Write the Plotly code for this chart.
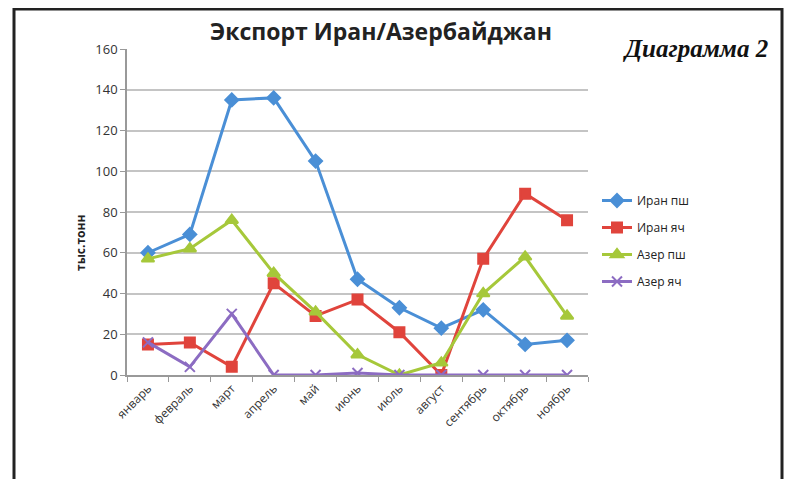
import plotly.graph_objects as go

months = ["январь", "февраль", "март", "апрель", "май", "июнь", "июль",
          "август", "сентябрь", "октябрь", "ноябрь"]
iran_wheat = [60, 69, 135, 136, 105, 47, 33, 23, 32, 15, 17]
iran_barley = [15, 16, 4, 45, 29, 37, 21, 0, 57, 89, 76]
azer_wheat = [57, 62, 76, 50, 31, 10, 0, 6, 40, 58, 29]
azer_barley = [16, 4, 30, 0, 0, 1, 0, 0, 0, 0, 0]
y_ticks = [0, 20, 40, 60, 80, 100, 120, 140, 160]

series = [
    ("Иран пш", iran_wheat, "#4a8fd6", "diamond", 10),
    ("Иран яч", iran_barley, "#e0443c", "square", 10),
    ("Азер пш", azer_wheat, "#a6c83a", "triangle-up", 11),
    ("Азер яч", azer_barley, "#8c6cc2", "x-thin", 10),
]

OFF = 8  # page body margin
FW, FH = 793 - OFF, 479 - OFF
L, R, T, B = 127 - OFF, 588 - OFF, 49 - OFF, 375 - OFF
W, H = R - L, B - T


def px(x):
    return (x - OFF - L) / W


def py(y):
    return (B - (y - OFF)) / H


fig = go.Figure()
for i, (name, vals, col, sym, sz) in enumerate(series):
    fig.add_trace(go.Scatter(
        x=months, y=vals, name=name, mode="lines+markers",
        line=dict(color=col, width=3),
        marker=dict(symbol=sym, size=sz, color=col,
                    line=dict(color=col, width=2)),
        legendgroup=f"g{i}",
    ))

fig.update_layout(
    width=FW, height=FH,
    margin=dict(l=L, r=FW - R, t=T, b=FH - B),
    paper_bgcolor="white", plot_bgcolor="white",
    font=dict(family="Open Sans, DejaVu Sans, sans-serif", color="#333"),
    showlegend=True,
    legend=dict(x=px(597), y=py(186), xanchor="left", yanchor="top",
                font=dict(size=12, color="#222"), traceorder="grouped",
                tracegroupgap=8, itemwidth=30, bgcolor="rgba(0,0,0,0)"),
    xaxis=dict(type="category", range=[-0.5, 10.5], showgrid=False,
               showline=True, linecolor="#999", linewidth=1.5,
               ticks="outside", ticklen=5, tickcolor="#999",
               tickson="boundaries", tickangle=-45,
               tickfont=dict(size=12, color="#333")),
    yaxis=dict(range=[0, 160], tickvals=y_ticks, showgrid=True,
               gridcolor="#c4c4c4", gridwidth=1.5, showline=True,
               linecolor="#999", linewidth=1.5, ticks="outside",
               ticklen=5, tickcolor="#999", zeroline=False,
               tickfont=dict(size=13, color="#333")),
    shapes=[dict(type="rect", xref="paper", yref="paper",
                 x0=px(14), x1=px(782), y0=py(495), y1=py(9),
                 line=dict(color="#222", width=3))],
    annotations=[
        dict(text="<b>Экспорт Иран/Азербайджан</b>", xref="paper", yref="paper",
             x=px(381), y=py(31), xanchor="center", yanchor="middle",
             showarrow=False,
             font=dict(size=23, color="#222",
                       family="Open Sans, DejaVu Sans, sans-serif")),
        dict(text="<b><i>Диаграмма 2</i></b>", xref="paper", yref="paper",
             x=px(695), y=py(48), xanchor="center", yanchor="middle",
             showarrow=False,
             font=dict(size=25, color="#111",
                       family="Liberation Serif, DejaVu Serif, serif")),
        dict(text="<b>тыс.тонн</b>", xref="paper", yref="paper",
             x=px(80), y=py(243), xanchor="center", yanchor="middle",
             showarrow=False, textangle=-90,
             font=dict(size=12, color="#222")),
    ],
)

fig.write_html("out.html")
